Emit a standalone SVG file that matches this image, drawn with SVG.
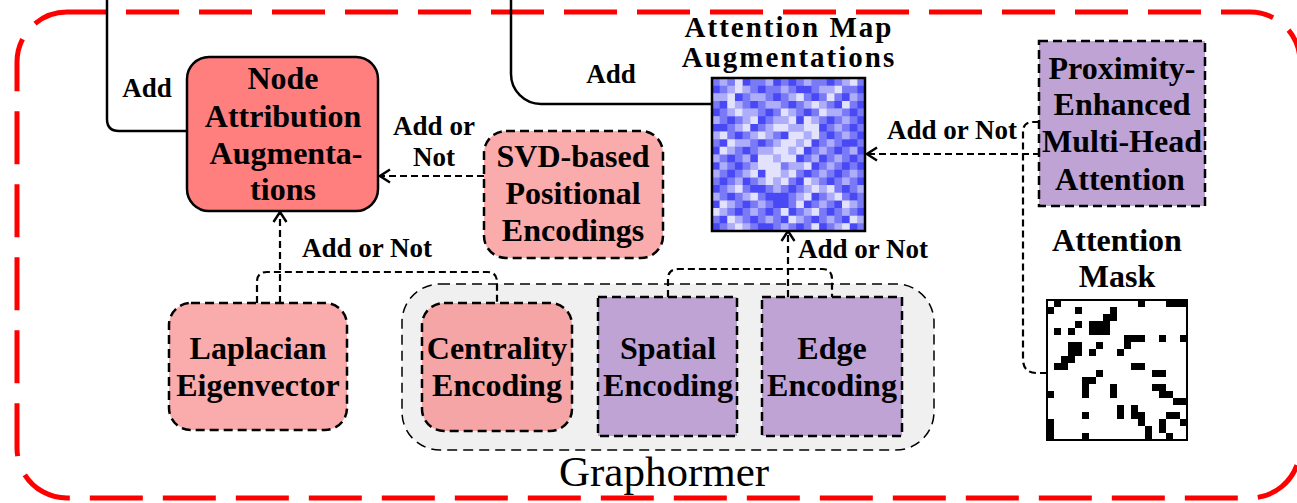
<svg xmlns="http://www.w3.org/2000/svg" width="1297" height="503" viewBox="0 0 1297 503">
<defs>
<style>
.t{font-family:'Liberation Serif','DejaVu Serif',serif;font-weight:bold;font-size:32px;text-anchor:middle;fill:#000}
.lbl{font-size:27px}
.title{font-size:29px;letter-spacing:2px}
.dl{fill:none;stroke:#000;stroke-width:2.2;stroke-dasharray:7 4}
.sl{fill:none;stroke:#000;stroke-width:2.5}
.nb{stroke:#000;stroke-width:2.5;stroke-dasharray:9 5}
.pink{fill:#faabab}
.purple{fill:#bea3d4}
</style>
<marker id="ah" markerUnits="userSpaceOnUse" markerWidth="14" markerHeight="16" viewBox="0 0 14 16" refX="12" refY="8" orient="auto"><path d="M2,1.5 L12,8 L2,14.5" fill="none" stroke="#000" stroke-width="2.4"/></marker>
</defs>
<rect width="1297" height="503" fill="#fff"/>
<rect id="frame" x="17" y="12" width="1283" height="486" rx="50" fill="none" stroke="#f00" stroke-width="5" stroke-dasharray="53 20" stroke-dashoffset="14"/>

<g id="graphormer">
<rect x="402" y="284" width="532" height="166" rx="38" fill="#f0f0f0" stroke="#000" stroke-width="1.5" stroke-dasharray="10 6"/>
<text class="t" x="664" y="486" style="font-size:43px;font-weight:normal">Graphormer</text>
</g>

<g id="connectors">
<path class="sl" d="M107,0 V119 Q107,131 119,131 H187"/>
<path class="sl" d="M511,0 V74 A30,30 0 0 0 541,104 H712"/>
<path class="dl" d="M484,176 H380" marker-end="url(#ah)"/>
<path class="dl" d="M257,303 V282 Q257,272 267,272 H487 Q497,272 497,282 V303"/>
<path class="dl" d="M280,303 V212" marker-end="url(#ah)"/>
<path class="dl" d="M668,297 V279 Q668,269 678,269 H822 Q832,269 832,279 V297"/>
<path class="dl" d="M788,297 V231" marker-end="url(#ah)"/>
<path class="dl" d="M1040,154 H867" marker-end="url(#ah)"/>
<path class="dl" d="M1047,373 H1037 Q1023,373 1023,359 V132 Q1023,122 1033,122 H1040"/>
<text class="t lbl" x="147" y="97">Add</text>
<text class="t lbl" x="611" y="83">Add</text>
<text class="t lbl" x="434" y="135">Add or</text>
<text class="t lbl" x="434" y="166">Not</text>
<text class="t lbl" x="367" y="257">Add or Not</text>
<text class="t lbl" x="863" y="258">Add or Not</text>
<text class="t lbl" x="952" y="139">Add or Not</text>
</g>

<g id="node-attribution">
<rect x="187" y="57" width="191" height="154" rx="22" fill="#ff7f7f" stroke="#000" stroke-width="2.5"/>
<text class="t" x="283" y="89">Node</text>
<text class="t" x="283" y="127">Attribution</text>
<text class="t" x="286" y="164">Augmenta-</text>
<text class="t" x="283" y="200">tions</text>
</g>

<g id="svd">
<rect class="pink nb" x="484" y="131" width="179" height="127" rx="22"/>
<text class="t" x="573" y="167">SVD-based</text>
<text class="t" x="573" y="204">Positional</text>
<text class="t" x="573" y="241">Encodings</text>
</g>

<g id="laplacian">
<rect class="pink nb" x="169" y="303" width="178" height="127" rx="22"/>
<text class="t" x="258" y="359">Laplacian</text>
<text class="t" x="258" y="396">Eigenvector</text>
</g>

<g id="centrality">
<rect class="nb" x="422" y="303" width="150" height="128" rx="22" fill="#f5a5a5"/>
<text class="t" x="497" y="359">Centrality</text>
<text class="t" x="497" y="396">Encoding</text>
</g>

<g id="spatial">
<rect class="purple nb" x="598" y="297" width="139" height="139"/>
<text class="t" x="668" y="359">Spatial</text>
<text class="t" x="668" y="396">Encoding</text>
</g>

<g id="edge">
<rect class="purple nb" x="762" y="297" width="140" height="139"/>
<text class="t" x="832" y="359">Edge</text>
<text class="t" x="832" y="396">Encoding</text>
</g>

<g id="attention-map">
<text class="t title" x="789" y="37">Attention Map</text>
<text class="t title" x="789" y="67">Augmentations</text>
<g transform="translate(712,78) scale(7.65)" fill="none" stroke-width="1">
<rect width="20" height="20" fill="#7a7af7"/>
<path stroke="#4848f4" d="M4 .5h1M8 .5h1M10 .5h1M15 .5h1M0 1.5h1M6 1.5h1M11 1.5h2M19 1.5h1M3 2.5h1M8 2.5h1M13 2.5h1M17 2.5h1M1 3.5h1M5 3.5h1M10 3.5h1M16 3.5h1M19 3.5h1M0 4.5h1M7 4.5h1M12 4.5h1M18 4.5h1M2 5.5h1M6 5.5h1M11 5.5h1M15 5.5h1M19 5.5h1M0 6.5h2M5 6.5h1M14 6.5h1M18 6.5h1M3 7.5h1M9 7.5h1M15 7.5h1M19 7.5h1M1 8.5h1M6 8.5h1M13 8.5h1M17 8.5h2M0 9.5h1M4 9.5h1M12 9.5h1M16 9.5h1M19 9.5h1M2 10.5h1M5 10.5h1M11 10.5h1M14 10.5h1M18 10.5h1M0 11.5h1M3 11.5h1M13 11.5h1M17 11.5h1M19 11.5h1M2 12.5h1M6 12.5h1M12 12.5h1M16 12.5h1M1 13.5h1M4 13.5h1M11 13.5h1M15 13.5h1M19 13.5h1M0 14.5h1M5 14.5h2M10 14.5h1M17 14.5h1M2 15.5h1M7 15.5h3M13 15.5h1M18 15.5h1M0 16.5h1M4 16.5h1M8 16.5h2M12 16.5h1M16 16.5h1M3 17.5h1M7 17.5h1M10 17.5h1M15 17.5h1M19 17.5h1M1 18.5h1M5 18.5h1M9 18.5h1M13 18.5h1M17 18.5h1M0 19.5h1M6 19.5h2M11 19.5h1M14 19.5h1M18 19.5h1"/>
<path stroke="#adadfa" d="M1 .5h1M7 .5h1M12 .5h1M17 .5h1M2 1.5h1M4 1.5h1M9 1.5h1M14 1.5h2M0 2.5h2M5 2.5h2M10 2.5h1M18 2.5h1M3 3.5h1M7 3.5h2M12 3.5h1M14 3.5h1M2 4.5h1M4 4.5h2M10 4.5h1M15 4.5h2M0 5.5h1M4 5.5h1M8 5.5h2M13 5.5h1M17 5.5h1M3 6.5h1M7 6.5h1M10 6.5h2M16 6.5h1M0 7.5h1M5 7.5h1M7 7.5h1M12 7.5h1M17 7.5h1M3 8.5h2M8 8.5h1M11 8.5h1M15 8.5h1M2 9.5h1M6 9.5h2M10 9.5h1M14 9.5h1M18 9.5h1M0 10.5h1M4 10.5h1M8 10.5h1M13 10.5h1M16 10.5h1M1 11.5h1M5 11.5h1M10 11.5h2M15 11.5h1M0 12.5h1M4 12.5h1M9 12.5h1M14 12.5h1M18 12.5h1M3 13.5h1M6 13.5h1M8 13.5h1M13 13.5h1M17 13.5h1M2 14.5h1M8 14.5h1M12 14.5h1M14 14.5h1M19 14.5h1M0 15.5h1M4 15.5h1M11 15.5h1M15 15.5h1M2 16.5h1M6 16.5h1M14 16.5h1M18 16.5h1M1 17.5h1M5 17.5h1M12 17.5h1M17 17.5h1M3 18.5h1M7 18.5h1M11 18.5h1M15 18.5h1M19 18.5h1M2 19.5h1M4 19.5h1M9 19.5h1M16 19.5h1"/>
<path stroke="#e2e2fd" d="M3 .5h1M18 .5h1M3 1.5h1M16 1.5h1M2 2.5h1M11 2.5h1M15 2.5h1M2 3.5h1M13 3.5h1M17 3.5h1M3 4.5h1M9 4.5h1M14 4.5h1M5 5.5h1M10 5.5h1M12 5.5h1M4 6.5h1M8 6.5h2M12 6.5h2M1 7.5h1M6 7.5h1M10 7.5h2M13 7.5h1M2 8.5h1M9 8.5h2M12 8.5h1M1 9.5h1M8 9.5h2M11 9.5h1M6 10.5h2M9 10.5h2M6 11.5h3M12 11.5h1M5 12.5h1M7 12.5h2M10 12.5h1M7 13.5h1M9 13.5h1M12 13.5h1M3 14.5h1M13 14.5h1M15 14.5h1M5 15.5h1M12 15.5h1M16 15.5h1M1 16.5h1M11 16.5h1M17 16.5h1M0 17.5h1M9 17.5h1M13 17.5h1M2 18.5h1M10 18.5h1M18 18.5h1M3 19.5h1M13 19.5h1M17 19.5h1"/>
</g>
<rect x="712" y="78" width="153" height="153" fill="none" stroke="#000" stroke-width="2.5"/>
</g>

<g id="proximity">
<rect class="purple nb" x="1039" y="41" width="166" height="165"/>
<text class="t" x="1122" y="79">Proximity-</text>
<text class="t" x="1122" y="115">Enhanced</text>
<text class="t" x="1122" y="152">Multi-Head</text>
<text class="t" x="1120" y="190">Attention</text>
</g>

<g id="attention-mask">
<text class="t" x="1117" y="251">Attention</text>
<text class="t" x="1117" y="287">Mask</text>
<rect x="1047" y="300" width="140" height="140" fill="#fff"/>
<g transform="translate(1047,300) scale(7)">
<path fill="none" stroke="#000" stroke-width="1" d="M1 .5h1M13 .5h1M17 .5h3M0 1.5h1M4 1.5h1M9 1.5h1M8 2.5h2M4 3.5h1M6 3.5h3M1 4.5h1M3 4.5h1M6 4.5h3M11 5.5h3M16 5.5h1M19 5.5h1M3 6.5h2M7 6.5h1M11 6.5h1M3 7.5h2M6 7.5h1M10 7.5h1M2 8.5h2M1 9.5h2M12 9.5h2M7 10.5h1M15 10.5h2M5 11.5h2M5 12.5h1M9 12.5h1M15 12.5h2M0 13.5h1M5 13.5h1M9 13.5h1M16 13.5h2M18 14.5h2M10 15.5h1M12 15.5h1M5 16.5h1M10 16.5h1M12 16.5h2M17 16.5h2M0 17.5h1M13 17.5h1M16 17.5h1M19 17.5h1M0 18.5h1M14 18.5h1M16 18.5h1M0 19.5h1M5 19.5h1M14 19.5h1M17 19.5h1"/>
</g>
<rect x="1047" y="300" width="140" height="140" fill="none" stroke="#000" stroke-width="2"/>
</g>
</svg>
